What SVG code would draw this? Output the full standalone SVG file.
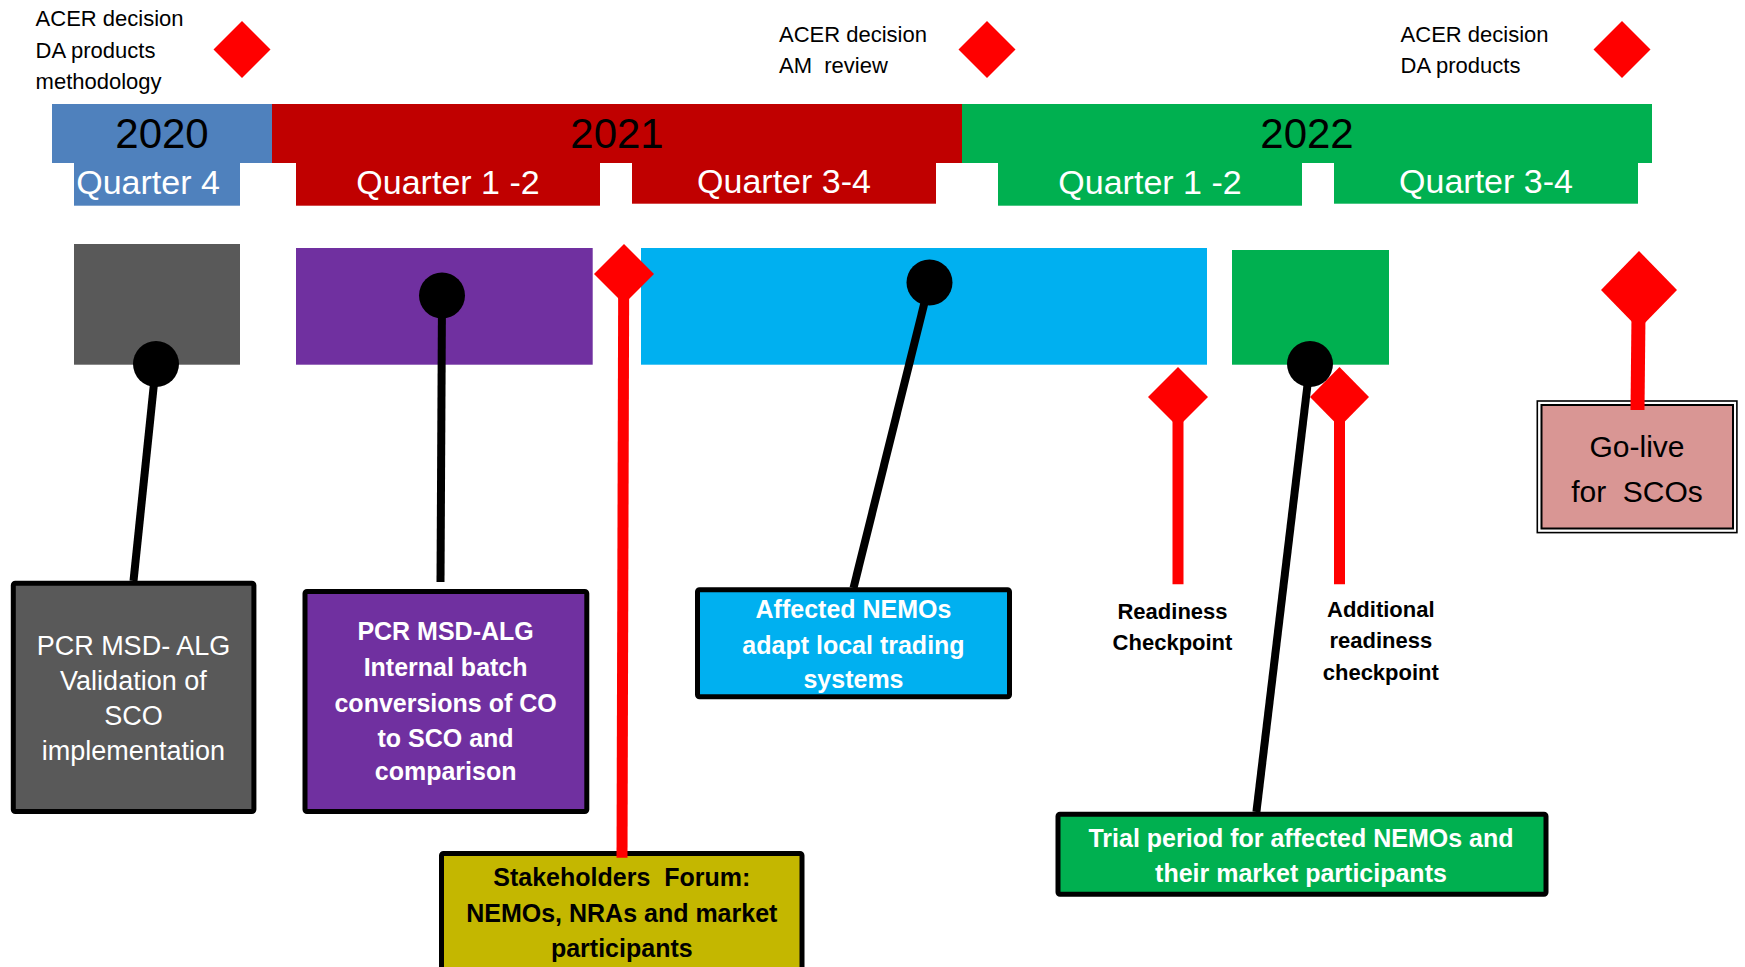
<svg xmlns="http://www.w3.org/2000/svg" width="1745" height="967" viewBox="0 0 1745 967">
<style>
text{font-family:"Liberation Sans",Arial,sans-serif}
.yr{font-size:42px;fill:#000;text-anchor:middle}
.q{font-size:34px;fill:#fff;text-anchor:middle}
.note{font-size:22px;fill:#000}
.bw{font-size:25px;font-weight:bold;fill:#fff;text-anchor:middle}
.bk{font-size:25px;font-weight:bold;fill:#000;text-anchor:middle}
.ck{font-size:22px;font-weight:bold;fill:#000;text-anchor:middle}
.gt{font-size:27px;fill:#fff;text-anchor:middle}
.box{stroke:#000;stroke-width:5}
.dia{fill:#f00}
.stem{stroke:#f00;stroke-width:11;fill:none}
.lead{stroke:#000;stroke-width:8;fill:none}
.dot{fill:#000}
</style>
<rect width="1745" height="967" fill="#fff"/>

<g id="timeline">
  <rect x="52" y="104" width="220" height="59" fill="#4F81BD"/>
  <rect x="74" y="163" width="166" height="42.7" fill="#4F81BD"/>
  <rect x="272" y="104" width="690" height="59" fill="#C00000"/>
  <rect x="296" y="163" width="304" height="42.7" fill="#C00000"/>
  <rect x="632" y="163" width="304" height="40.7" fill="#C00000"/>
  <rect x="962" y="104" width="690" height="59" fill="#00B050"/>
  <rect x="998" y="163" width="304" height="42.7" fill="#00B050"/>
  <rect x="1334" y="163" width="304" height="40.7" fill="#00B050"/>
  <text class="yr" x="162" y="148">2020</text>
  <text class="yr" x="617" y="148">2021</text>
  <text class="yr" x="1307" y="148">2022</text>
  <text class="q" x="148" y="194">Quarter 4</text>
  <text class="q" x="448" y="194">Quarter 1 -2</text>
  <text class="q" x="784" y="192.5">Quarter 3-4</text>
  <text class="q" x="1150" y="194">Quarter 1 -2</text>
  <text class="q" x="1486" y="192.5">Quarter 3-4</text>
</g>

<g id="acer1">
  <polygon class="dia" points="242,21 270.5,49.5 242,78 213.5,49.5"/>
  <text class="note" x="35.6" y="26">ACER decision</text>
  <text class="note" x="35.6" y="57.5">DA products</text>
  <text class="note" x="35.6" y="89">methodology</text>
</g>
<g id="acer2">
  <polygon class="dia" points="987,21 1015.5,49.5 987,78 958.5,49.5"/>
  <text class="note" x="779" y="42.3">ACER decision</text>
  <text class="note" x="779" y="73.3" xml:space="preserve">AM  review</text>
</g>
<g id="acer3">
  <polygon class="dia" points="1622,21 1650.5,49.5 1622,78 1593.5,49.5"/>
  <text class="note" x="1400.6" y="42.3">ACER decision</text>
  <text class="note" x="1400.6" y="73.3">DA products</text>
</g>

<g id="bar-gray"><rect x="74" y="244" width="166" height="120.7" fill="#595959"/></g>
<g id="bar-purple"><rect x="296" y="248" width="296.7" height="116.7" fill="#7030A0"/></g>
<g id="bar-blue"><rect x="641" y="248" width="566" height="116.7" fill="#00B0F0"/></g>
<g id="bar-green"><rect x="1232" y="250" width="157" height="114.7" fill="#00B050"/></g>

<g id="box-gray">
  <rect class="box" x="13.3" y="583.2" width="240.6" height="228.3" fill="#595959" rx="2"/>
  <text class="gt" x="133.4" y="655">PCR MSD- ALG</text>
  <text class="gt" x="133.4" y="690">Validation of</text>
  <text class="gt" x="133.4" y="725">SCO</text>
  <text class="gt" x="133.4" y="760">implementation</text>
</g>
<g id="box-purple">
  <rect class="box" x="305" y="591.5" width="281.8" height="220" fill="#7030A0" rx="2"/>
  <text class="bw" x="445.6" y="640">PCR MSD-ALG</text>
  <text class="bw" x="445.6" y="675.5">Internal batch</text>
  <text class="bw" x="445.6" y="711.5">conversions of CO</text>
  <text class="bw" x="445.6" y="746.5">to SCO and</text>
  <text class="bw" x="445.6" y="780">comparison</text>
</g>
<g id="box-stakeholders">
  <rect class="box" x="441.5" y="853.5" width="360.5" height="140" fill="#C4B700" rx="2"/>
  <text class="bk" x="621.8" y="886" xml:space="preserve">Stakeholders  Forum:</text>
  <text class="bk" x="621.8" y="921.5">NEMOs, NRAs and market</text>
  <text class="bk" x="621.8" y="957">participants</text>
</g>
<g id="box-blue">
  <rect class="box" x="697.5" y="589.8" width="312" height="107" fill="#00B0F0" rx="2"/>
  <text class="bw" x="853.5" y="617.7">Affected NEMOs</text>
  <text class="bw" x="853.5" y="654">adapt local trading</text>
  <text class="bw" x="853.5" y="688">systems</text>
</g>
<g id="readiness">
  <text class="ck" x="1172.5" y="619.3">Readiness</text>
  <text class="ck" x="1172.5" y="650">Checkpoint</text>
</g>
<g id="additional">
  <text class="ck" x="1380.8" y="617.3">Additional</text>
  <text class="ck" x="1380.8" y="648.3">readiness</text>
  <text class="ck" x="1380.8" y="680">checkpoint</text>
</g>
<g id="box-trial">
  <rect class="box" x="1058" y="814.2" width="488" height="80" fill="#00B050" rx="2"/>
  <text class="bw" x="1301" y="846.7">Trial period for affected NEMOs and</text>
  <text class="bw" x="1301" y="881.7">their market participants</text>
</g>
<g id="box-golive">
  <rect x="1537.3" y="401" width="199.6" height="131.6" fill="#fff" stroke="#000" stroke-width="1.6"/>
  <rect x="1541.5" y="405" width="191.5" height="123.5" fill="#D99694" stroke="#000" stroke-width="2"/>
  <text x="1637" y="456.7" font-size="30" text-anchor="middle" fill="#000">Go-live</text>
  <text x="1637" y="501.7" font-size="30" text-anchor="middle" fill="#000" xml:space="preserve">for  SCOs</text>
</g>

<g id="connectors">
  <line class="stem" x1="623.7" y1="280" x2="622" y2="857.7"/>
  <polygon class="dia" points="624,244 654,274 624,304 594,274"/>
  <line class="stem" x1="1178" y1="400" x2="1178" y2="584.3"/>
  <polygon class="dia" points="1178,367 1208,397 1178,427 1148,397"/>
  <line class="stem" x1="1339.5" y1="400" x2="1339.5" y2="584.3"/>
  <polygon class="dia" points="1339.5,367 1369,397 1339.5,427 1310,397"/>
  <line x1="1638.7" y1="295" x2="1637.5" y2="410" stroke="#f00" stroke-width="14"/>
  <polygon class="dia" points="1639,251 1677,290 1639,329 1601,290"/>

  <line class="lead" x1="156" y1="364" x2="133.5" y2="581"/>
  <line class="lead" x1="442" y1="295.5" x2="440.5" y2="582"/>
  <line class="lead" x1="929.5" y1="282.5" x2="853.5" y2="588"/>
  <line class="lead" x1="1310" y1="364" x2="1256.4" y2="812"/>
  <circle class="dot" cx="156" cy="364" r="23"/>
  <circle class="dot" cx="442" cy="295.5" r="23"/>
  <circle class="dot" cx="929.5" cy="282.5" r="23"/>
  <circle class="dot" cx="1310" cy="364" r="23"/>
</g>
</svg>
